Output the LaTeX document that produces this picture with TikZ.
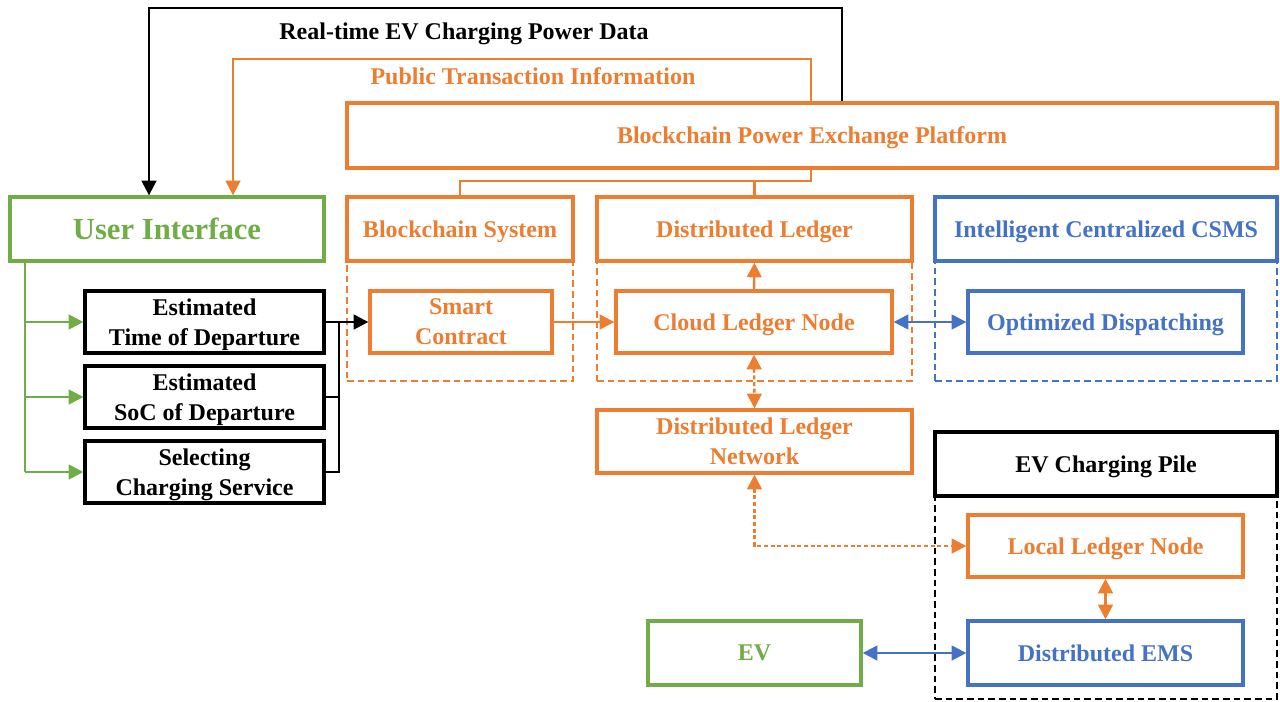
\documentclass[tikz,border=0pt]{standalone}
\usepackage{fontspec}
\setmainfont{Liberation Serif}
\usetikzlibrary{arrows.meta,calc}
\definecolor{cOrange}{HTML}{ED7D31}
\definecolor{cGreen}{HTML}{70AD47}
\definecolor{cBlue}{HTML}{4472C4}

\begin{document}
\begin{tikzpicture}[x=0.75pt,y=-0.75pt,
  lbl/.style={font=\fontsize{18}{22.5}\selectfont\bfseries, align=center, text depth=0pt},
  sz/.style 2 args={minimum width=#1*0.75pt, minimum height=#2*0.75pt},
  box/.style={draw, line width=2.5pt, inner sep=0pt, fill=white, lbl},
  obox/.style={box, draw=cOrange, text=cOrange},
  bbox/.style={box, draw=cBlue, text=cBlue},
  gbox/.style={box, draw=cGreen, text=cGreen},
  kbox/.style={box, draw=black, text=black},
  grp/.style={draw, line width=2pt, dash pattern=on 5pt off 3pt, inner sep=0pt},
  wire/.style={line width=1.8pt},
  tip/.style={-{Triangle[length=11pt,width=11pt]}},
  dtip/.style={{Triangle[length=11pt,width=11pt]}-{Triangle[length=11pt,width=11pt]}},
  dots/.style={dash pattern=on 3pt off 2pt},
]
\useasboundingbox (0,0) rectangle (1280,701);

% dashed group outlines (drawn first, headers cover their top edges)
\node[grp, draw=cOrange, sz={226}{152}] (bsgrp) at (460,305) {};
\node[grp, draw=cOrange, sz={315}{152}] (dlgrp) at (754.5,305) {};
\node[grp, draw=cBlue,   sz={342}{152}] (csgrp) at (1106,305) {};
\node[grp, draw=black,   sz={342}{235}] (pilegrp) at (1106,581.5) {};

% platform and group headers
\node[obox, sz={930}{65}] (platform) at (812,135.5) {Blockchain Power Exchange Platform};
\node[obox, sz={226}{64}] (bshead) at (460,229) {Blockchain System};
\node[obox, sz={315}{64}] (dlhead) at (754.5,229) {Distributed Ledger};
\node[bbox, sz={342}{64}] (cshead) at (1106,229) {Intelligent Centralized CSMS};
\node[kbox, sz={342}{64}] (pilehead) at (1106,464) {EV Charging Pile};

% user side
\node[gbox, font=\fontsize{23}{27}\selectfont\bfseries, sz={314}{64}] (ui) at (167,229) {User Interface};
\node[kbox, sz={239}{62}] (etd) at (204.5,322) {Estimated\\Time of Departure};
\node[kbox, sz={239}{62}] (esoc) at (204.5,397) {Estimated\\SoC of Departure};
\node[kbox, sz={239}{62}] (sel) at (204.5,472) {Selecting\\Charging Service};

% inner boxes
\node[obox, sz={182}{62}] (sc) at (461,322) {Smart\\Contract};
\node[obox, sz={276}{62}] (cln) at (754,322) {Cloud Ledger Node};
\node[bbox, sz={275}{62}] (od) at (1105.5,322) {Optimized Dispatching};
\node[obox, sz={315}{63}] (dln) at (754.5,441.5) {Distributed Ledger\\Network};
\node[obox, sz={275}{62}] (lln) at (1105.5,546) {Local Ledger Node};
\node[bbox, sz={275}{64}] (dems) at (1105.5,653) {Distributed EMS};
\node[gbox, sz={213}{64}] (ev) at (754.5,653) {EV};

% feedback routes above the platform
\coordinate (blkTop) at (149,8);
\coordinate (blkX) at (842,0);
\coordinate (orgTop) at (233,59);
\coordinate (orgX) at (811,0);
\draw[wire, black, tip] (platform.north -| blkX) |- (blkTop) -- (ui.north -| blkTop);
\draw[wire, cOrange, tip] (platform.north -| orgX) |- (orgTop) -- (ui.north -| orgTop);
\node[lbl, black] (rtlabel) at (464,31) {Real-time EV Charging Power Data};
\node[lbl, cOrange] (ptlabel) at (533,76) {Public Transaction Information};

% platform to blockchain system and distributed ledger
\coordinate (split) at (811,181);
\draw[wire, cOrange] (platform.south -| orgX) -- (split) -| (bshead.north);
\draw[wire, cOrange] (dlhead.north) -- (dlhead.north |- split);

% user interface inputs
\coordinate (gx) at (25,0);
\draw[wire, cGreen] (ui.south -| gx) -- (sel.west -| gx);
\draw[wire, cGreen, tip] (etd.west -| gx) -- (etd.west);
\draw[wire, cGreen, tip] (esoc.west -| gx) -- (esoc.west);
\draw[wire, cGreen, tip] (sel.west -| gx) -- (sel.west);

\coordinate (bx) at (339,0);
\draw[wire, black] (esoc.east) -| (bx |- etd.east);
\draw[wire, black] (sel.east) -| (bx |- etd.east);
\draw[wire, black, tip] (etd.east) -- (sc.west);

% ledger flows
\draw[wire, cOrange, tip] (sc.east) -- (cln.west);
\draw[wire, cOrange, tip] (cln.north) -- (dlhead.south);
\draw[wire, cOrange, dots, dtip] (cln.south) -- (dln.north);
\draw[wire, cOrange, dots, dtip] (dln.south) |- (lln.west);
\draw[wire, cOrange, dtip] (lln.south) -- (dems.north);
\draw[wire, cBlue, dtip] (cln.east) -- (od.west);
\draw[wire, cBlue, dtip] (ev.east) -- (dems.west);
\end{tikzpicture}
\end{document}
